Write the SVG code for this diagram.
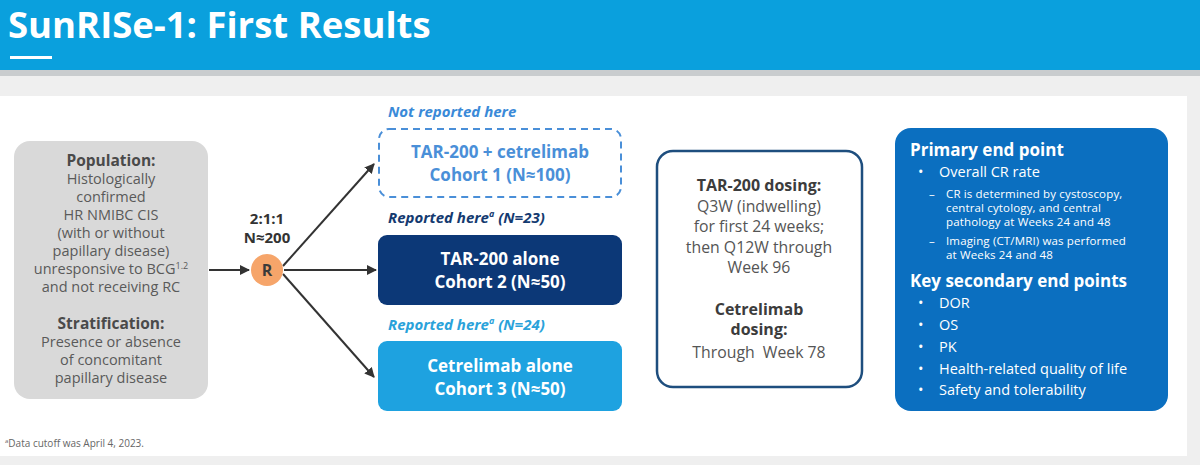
<svg xmlns="http://www.w3.org/2000/svg" width="1200" height="465" viewBox="0 0 1200 465">
<defs>
<style>
text{font-family:"Open Sans","Liberation Sans",sans-serif}
.pop{fill:#5a5a5a;font-size:14.5px;text-anchor:middle}
.popb{fill:#4a4a4a;font-size:15.5px;font-weight:bold;text-anchor:middle}
.dos{fill:#555;font-size:15.8px;text-anchor:middle}
.dosb{fill:#3c3c3c;font-size:16px;font-weight:bold;text-anchor:middle}
.coh{font-size:17px;font-weight:bold;text-anchor:middle}
.lbl{font-size:15px;font-weight:bold;font-style:italic}
.ep{fill:#fff}
.eph{font-size:17px;font-weight:bold}
.epi{font-size:14.5px}
.eps{font-size:11.5px;letter-spacing:0.15px}
.conn{stroke:#333;stroke-width:2;fill:none}
</style>
<marker id="arr" viewBox="0 0 10 10" refX="9" refY="5" markerWidth="5" markerHeight="5" orient="auto"><path d="M0,0 L10,5 L0,10 z" fill="#333"/></marker>
</defs>
<rect width="1200" height="465" fill="#efefef"/>
<rect x="0" y="0" width="1200" height="70" fill="#0aa0dd"/>
<rect x="0" y="70" width="1200" height="6" fill="#c9ccce"/>
<rect x="0" y="96" width="1187" height="360" fill="#ffffff"/>
<g id="title">
<text x="8" y="38" fill="#fff" font-size="36.5" font-weight="bold">SunRISe-1: First Results</text>
<rect x="10" y="56" width="42" height="3" fill="#fff"/>
</g>
<g id="connectors">
<line class="conn" x1="209" y1="270" x2="249" y2="270" marker-end="url(#arr)"/>
<line class="conn" x1="283" y1="266" x2="374" y2="164" marker-end="url(#arr)"/>
<line class="conn" x1="284" y1="270" x2="376" y2="270" marker-end="url(#arr)"/>
<line class="conn" x1="283" y1="274" x2="374" y2="377" marker-end="url(#arr)"/>
</g>
<g id="population">
<rect x="14" y="141" width="194" height="258" rx="16" fill="#d9d9d9"/>
<text class="popb" x="111" y="166">Population:</text>
<text class="pop" x="111" y="184">Histologically</text>
<text class="pop" x="111" y="202">confirmed</text>
<text class="pop" x="111" y="220">HR NMIBC CIS</text>
<text class="pop" x="111" y="238">(with or without</text>
<text class="pop" x="111" y="256">papillary disease)</text>
<text class="pop" x="111" y="274">unresponsive to BCG<tspan font-size="9" dy="-5">1.2</tspan></text>
<text class="pop" x="111" y="292">and not receiving RC</text>
<text class="popb" x="111" y="329">Stratification:</text>
<text class="pop" x="111" y="347">Presence or absence</text>
<text class="pop" x="111" y="365">of concomitant</text>
<text class="pop" x="111" y="383">papillary disease</text>
</g>
<g id="randomization">
<text x="267" y="224" fill="#333" font-size="15" font-weight="bold" text-anchor="middle">2:1:1</text>
<text x="267" y="243" fill="#333" font-size="15" font-weight="bold" text-anchor="middle">N≈200</text>
<circle cx="267" cy="270" r="16" fill="#f6a56a"/>
<text x="267" y="276" fill="#3a3a3a" font-size="16" font-weight="bold" text-anchor="middle">R</text>
</g>
<g id="cohort1">
<text class="lbl" x="388" y="117" fill="#3a8ad8">Not reported here</text>
<rect x="379" y="129" width="242" height="68" rx="10" fill="#fff" stroke="#4a8fd8" stroke-width="2" stroke-dasharray="7,5"/>
<text class="coh" x="500" y="158" fill="#4a8fd8">TAR-200 + cetrelimab</text>
<text class="coh" x="500" y="181" fill="#4a8fd8">Cohort 1 (N≈100)</text>
</g>
<g id="cohort2">
<text class="lbl" x="388" y="223" fill="#143a70">Reported here<tspan font-size="9" dy="-6">a</tspan><tspan dy="6"> (N=23)</tspan></text>
<rect x="378" y="235" width="244" height="70" rx="9" fill="#0c3877"/>
<text class="coh" x="500" y="265" fill="#fff">TAR-200 alone</text>
<text class="coh" x="500" y="288" fill="#fff">Cohort 2 (N≈50)</text>
</g>
<g id="cohort3">
<text class="lbl" x="388" y="330" fill="#2aa2da">Reported here<tspan font-size="9" dy="-6">a</tspan><tspan dy="6"> (N=24)</tspan></text>
<rect x="378" y="341" width="244" height="70" rx="9" fill="#1ea2e0"/>
<text class="coh" x="500" y="372" fill="#fff">Cetrelimab alone</text>
<text class="coh" x="500" y="395" fill="#fff">Cohort 3 (N≈50)</text>
</g>
<g id="dosing">
<rect x="657" y="151" width="205" height="236" rx="16" fill="#fff" stroke="#1e4e7e" stroke-width="2.5"/>
<text class="dosb" x="759" y="191">TAR-200 dosing:</text>
<text class="dos" x="759" y="211.5">Q3W (indwelling)</text>
<text class="dos" x="759" y="232">for first 24 weeks;</text>
<text class="dos" x="759" y="252.5">then Q12W through</text>
<text class="dos" x="759" y="273">Week 96</text>
<text class="dosb" x="759" y="315">Cetrelimab</text>
<text class="dosb" x="759" y="335">dosing:</text>
<text class="dos" x="759" y="358" xml:space="preserve">Through  Week 78</text>
</g>
<g id="endpoints">
<rect x="895" y="128" width="273" height="283" rx="16" fill="#0b6fc0"/>
<text class="ep eph" x="910" y="156">Primary end point</text>
<text class="ep epi" x="918" y="177">•</text>
<text class="ep epi" x="939" y="177">Overall CR rate</text>
<text class="ep eps" x="929" y="198">–</text>
<text class="ep eps" x="946" y="198">CR is determined by cystoscopy,</text>
<text class="ep eps" x="946" y="212">central cytology, and central</text>
<text class="ep eps" x="946" y="226">pathology at Weeks 24 and 48</text>
<text class="ep eps" x="929" y="245">–</text>
<text class="ep eps" x="946" y="245">Imaging (CT/MRI) was performed</text>
<text class="ep eps" x="946" y="259">at Weeks 24 and 48</text>
<text class="ep eph" x="910" y="287">Key secondary end points</text>
<text class="ep epi" x="918" y="308">•</text><text class="ep epi" x="939" y="308">DOR</text>
<text class="ep epi" x="918" y="330">•</text><text class="ep epi" x="939" y="330">OS</text>
<text class="ep epi" x="918" y="352">•</text><text class="ep epi" x="939" y="352">PK</text>
<text class="ep epi" x="918" y="374">•</text><text class="ep epi" x="939" y="374">Health-related quality of life</text>
<text class="ep epi" x="918" y="395">•</text><text class="ep epi" x="939" y="395">Safety and tolerability</text>
</g>
<g id="footnote">
<text x="5" y="447" fill="#666" font-size="10"><tspan font-size="6" dy="-4">a</tspan><tspan dy="4">Data cutoff was April 4, 2023.</tspan></text>
</g>
</svg>
